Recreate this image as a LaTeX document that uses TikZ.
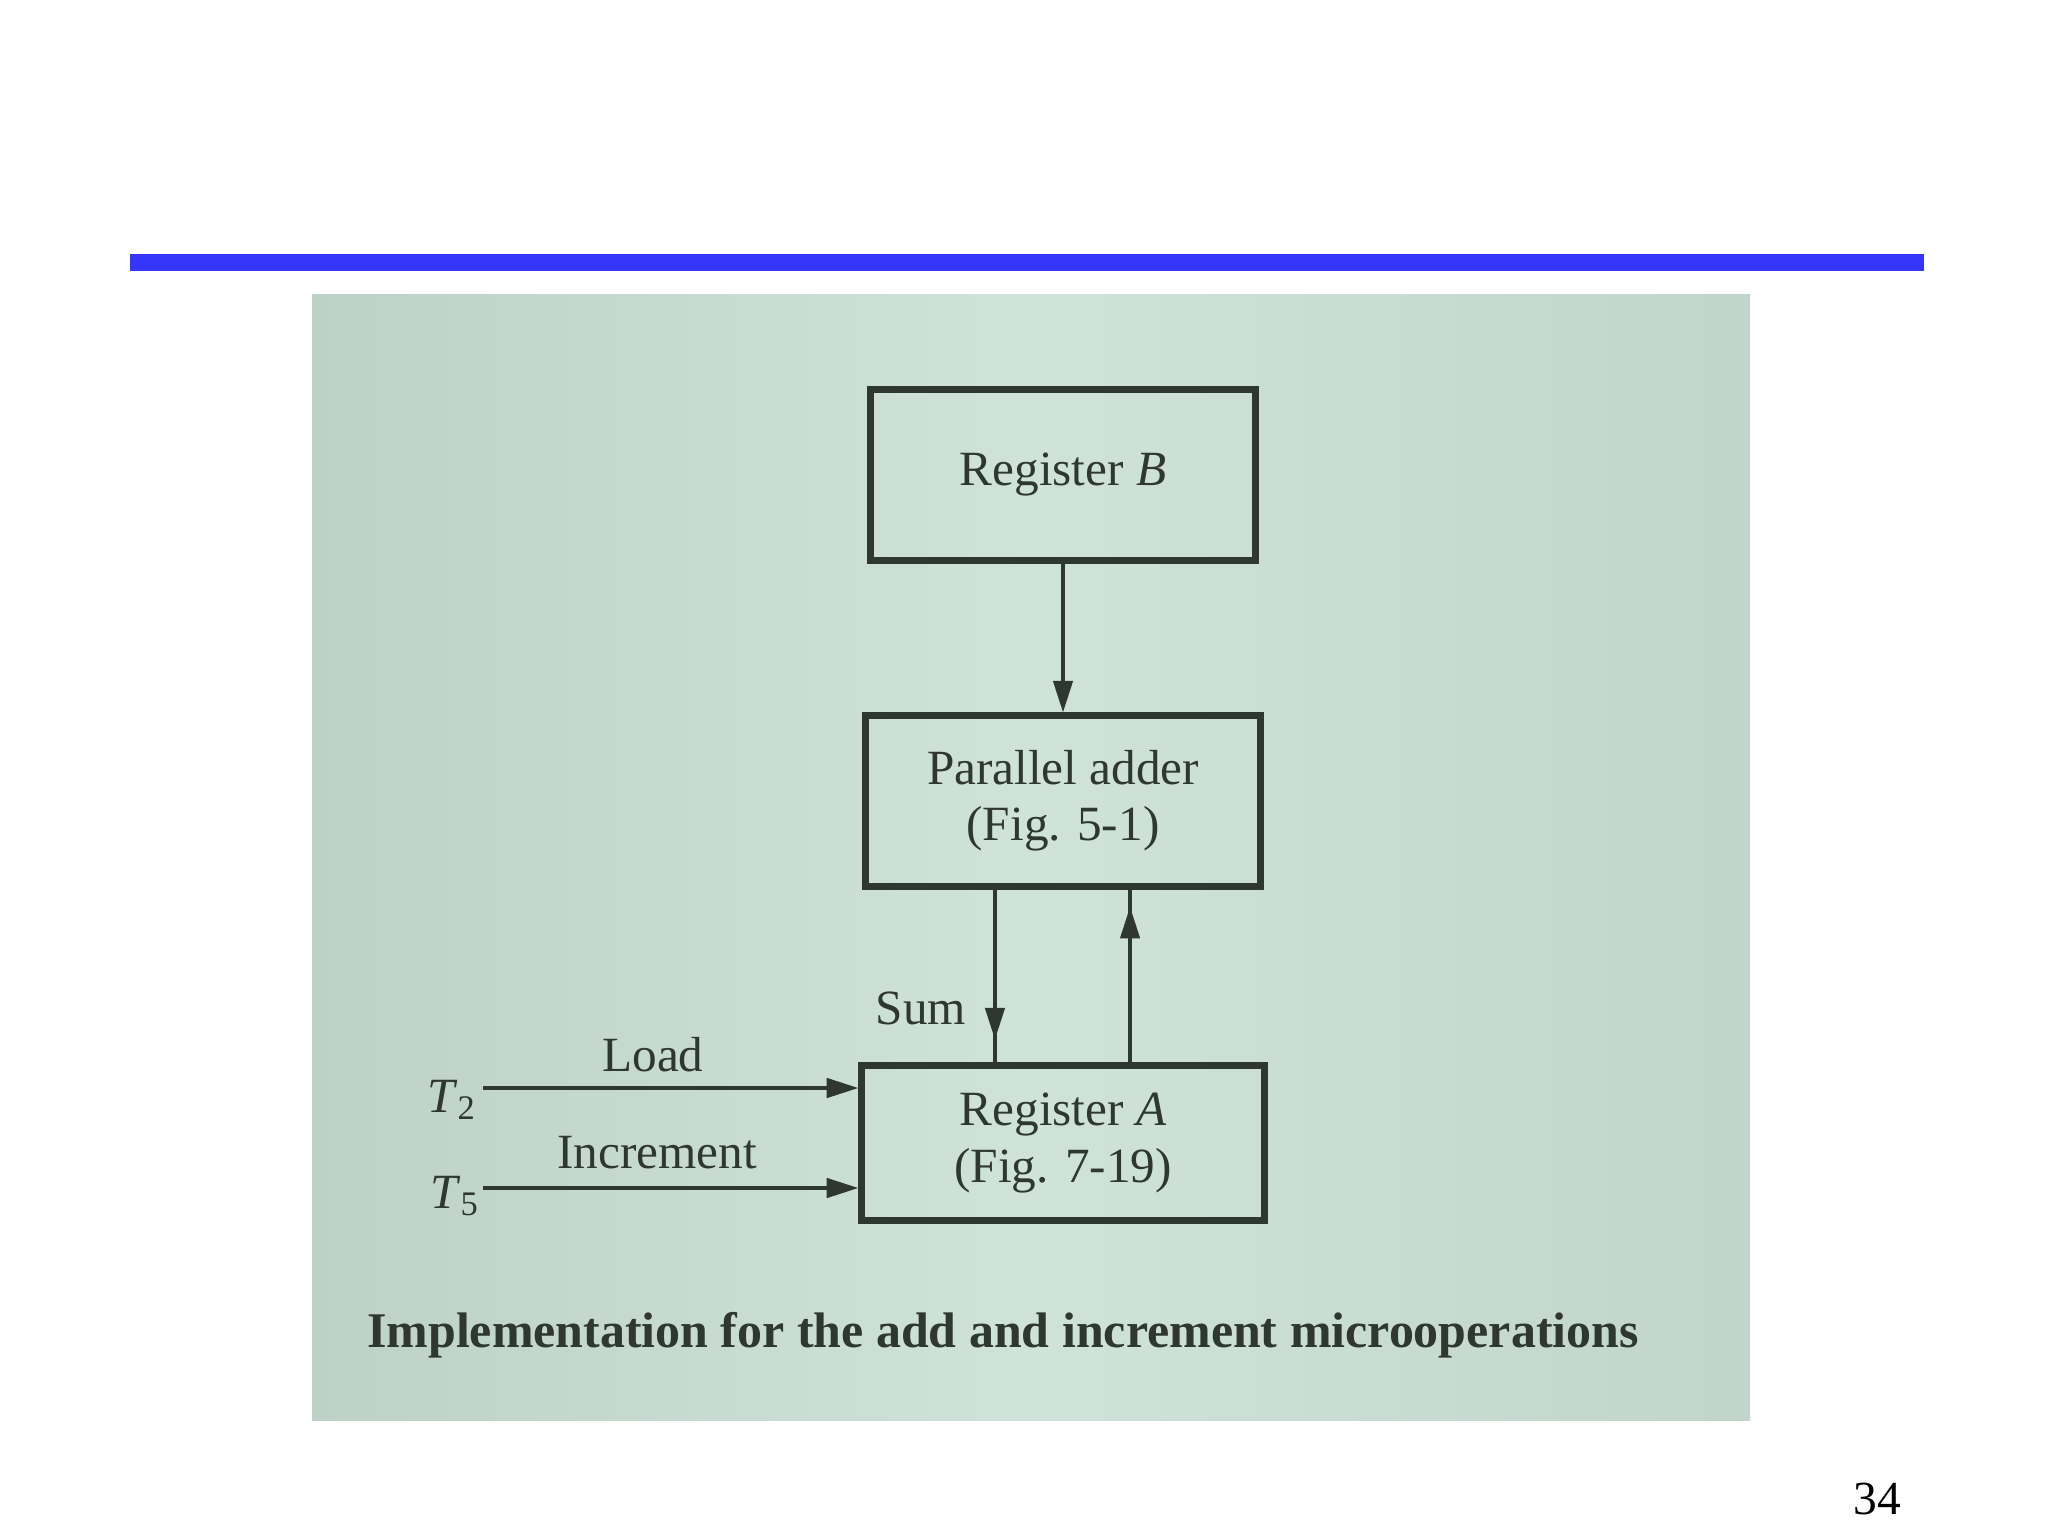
\documentclass[tikz,border=0pt]{standalone}
\usepackage{fontspec}
\setmainfont{Liberation Serif}
\usetikzlibrary{positioning,arrows.meta,calc,decorations.markings}
\definecolor{slidebar}{HTML}{3535FA}
\definecolor{paper}{HTML}{D0E3DB}
\definecolor{paperedge}{HTML}{BDD1C6}
\definecolor{ink}{HTML}{2E3732}
\newcommand{\Tsig}[1]{\textit{T}\textsubscript{#1}}

\begin{document}
\begin{tikzpicture}[x=0.01cm, y=-0.01cm,
  regbox/.style={draw=ink, line width=2pt, text=ink, align=center, inner sep=0pt, font=\fontsize{14}{16}\selectfont},
  sig/.style={text=ink, font=\fontsize{14}{16}\selectfont, inner sep=1pt},
  wire/.style={draw=ink, line width=1pt, -{Triangle[length=9pt,width=5.5pt]}},
  midwire/.style={draw=ink, line width=1pt, postaction={decorate},
    decoration={markings, mark=at position #1 with {\arrow{Triangle[length=9pt,width=5.5pt]}}}}]
\useasboundingbox (0,0) rectangle (2048,1536);
\fill[white] (0,0) rectangle (2048,1536);
\fill[slidebar] (130,254) rectangle (1924,271);
\shade[left color=paperedge, right color=paperedge!80!paper, middle color=paper] (312,294) rectangle (1750,1420);
\node[regbox, minimum width=3.85cm, minimum height=1.70cm] (regB) at (1063,475) {Register \textit{B}};
\node[regbox, minimum width=3.95cm, minimum height=1.70cm] (adder) at (1063,801) {Parallel adder\\(Fig. 5-1)};
\node[regbox, minimum width=4.02cm, minimum height=1.55cm] (regA) at (1063,1143) {Register \textit{A}\\(Fig. 7-19)};
\draw[wire] (regB.south) -- (adder.north);
\draw[midwire=0.87] ([xshift=-0.68cm]adder.south) -- ([xshift=-0.68cm]regA.north);
\draw[midwire=0.9] ([xshift=0.67cm]regA.north) -- ([xshift=0.67cm]adder.south);
\coordinate (t2in) at (483,1088);
\coordinate (t5in) at (483,1188);
\draw[wire] (t2in) -- (t2in -| regA.west);
\draw[wire] (t5in) -- (t5in -| regA.west);
\node[sig] (t2) at (452,1100) {\Tsig{2}};
\node[sig] (t5) at (455,1196) {\Tsig{5}};
\node[sig] (load) at (653,1055) {Load};
\node[sig] (incr) at (657,1153) {Increment};
\node[sig] (sum) at (921,1008) {Sum};
\node[sig, anchor=west, font=\fontsize{14.2}{16}\selectfont\bfseries] (caption) at (363,1335) {Implementation for the add and increment microoperations};
\node[font=\fontsize{13.5}{16}\selectfont] (page) at (1877,1499) {34};
\end{tikzpicture}
\end{document}
